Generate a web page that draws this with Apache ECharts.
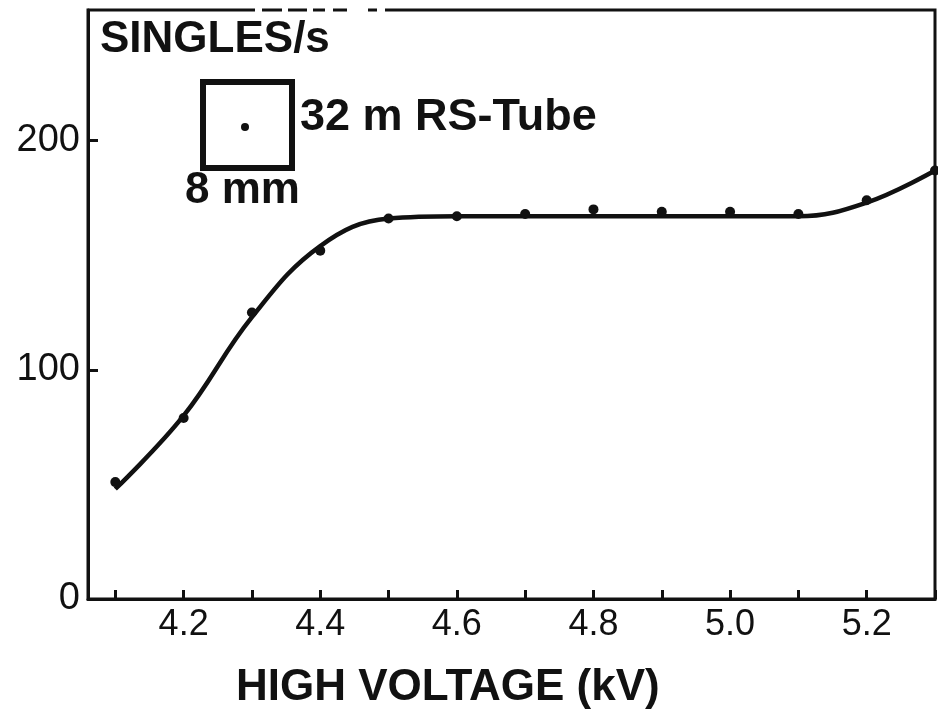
<!DOCTYPE html>
<html>
<head>
<meta charset="utf-8">
<script src="https://cdn.jsdelivr.net/npm/echarts@6/dist/echarts.min.js"></script>
<style>
  html, body { margin: 0; padding: 0; background: #fff; }
  #chart { width: 938px; height: 716px; }
</style>
</head>
<body>
<div id="chart"></div>
<script>
// high voltage (kV) at each measurement
var voltage = [4.1, 4.2, 4.3, 4.4, 4.5, 4.6, 4.7, 4.8, 4.9, 5.0, 5.1, 5.2, 5.3]
// measured singles rate (dots)
var singles = [51, 79, 125, 152, 166, 167, 168, 170, 169, 169, 168, 174, 187]
// hand drawn fit curve, read at the same voltages
var fitCurve = [48, 80, 123, 154, 166, 167, 167, 167, 167, 167, 167, 173, 187]
// axis ticks / labels
var xTicks = [4.1, 4.2, 4.3, 4.4, 4.5, 4.6, 4.7, 4.8, 4.9, 5.0, 5.1, 5.2, 5.3]
var xLabels = [4.2, 4.4, 4.6, 4.8, 5.0, 5.2]

var ink = '#111'
var font = '"Liberation Sans", Arial, Helvetica, sans-serif'

// the scanned frame has a few breaks in its top edge
var frameGaps = [[255, 7], [282, 6], [307, 6], [325, 8], [347, 21], [377, 8]]

var chart = echarts.init(document.getElementById('chart'))

var graphics = [
  {
    type: 'text',
    left: 100,
    top: 18,
    style: { text: 'SINGLES/s', fill: ink, font: 'bold 44px ' + font }
  },
  {
    type: 'rect',
    shape: { x: 203, y: 82, width: 89, height: 86 },
    style: { fill: 'none', stroke: ink, lineWidth: 6 }
  },
  {
    type: 'circle',
    shape: { cx: 245, cy: 127, r: 4 },
    style: { fill: ink }
  },
  {
    type: 'text',
    left: 300,
    top: 95,
    style: { text: '32 m RS-Tube', fill: ink, font: 'bold 45px ' + font }
  },
  {
    type: 'text',
    left: 185,
    top: 169,
    style: { text: '8 mm', fill: ink, font: 'bold 44px ' + font }
  },
  {
    type: 'text',
    left: 236,
    top: 666,
    style: { text: 'HIGH VOLTAGE (kV)', fill: ink, font: 'bold 44px ' + font }
  }
]
frameGaps.forEach(function(g) {
  graphics.push({
    type: 'rect',
    z: 100,
    shape: { x: g[0], y: 6, width: g[1], height: 8 },
    style: { fill: '#fff' }
  })
})

chart.setOption({
  backgroundColor: '#fff',
  animation: false,
  grid: {
    left: 88,
    right: 3,
    top: 10,
    bottom: 117,
    show: true,
    borderColor: ink,
    borderWidth: 3
  },
  xAxis: {
    type: 'value',
    min: 4.06,
    max: 5.3,
    axisLine: { lineStyle: { color: ink, width: 3 } },
    axisTick: {
      inside: true,
      length: 9,
      customValues: xTicks,
      lineStyle: { color: ink, width: 3 }
    },
    axisLabel: {
      customValues: xLabels,
      margin: 8,
      color: ink,
      fontFamily: font,
      fontSize: 36,
      formatter: function(v) { return v.toFixed(1) }
    },
    splitLine: { show: false }
  },
  yAxis: {
    type: 'value',
    min: 0,
    max: 257,
    interval: 100,
    axisLine: { lineStyle: { color: ink, width: 3 } },
    axisTick: {
      inside: true,
      length: 10,
      lineStyle: { color: ink, width: 3 }
    },
    axisLabel: {
      showMaxLabel: false,
      margin: 8,
      color: ink,
      fontFamily: font,
      fontSize: 38
    },
    splitLine: { show: false }
  },
  graphic: graphics,
  series: [
    {
      name: 'fit',
      type: 'line',
      smooth: 0.4,
      showSymbol: false,
      lineStyle: { color: ink, width: 4.5 },
      data: voltage.map(function(v, i) { return [v, fitCurve[i]] }),
      z: 2
    },
    {
      name: 'measured',
      type: 'scatter',
      symbol: 'circle',
      symbolSize: 10,
      itemStyle: { color: ink, opacity: 1 },
      data: voltage.map(function(v, i) { return [v, singles[i]] }),
      z: 3
    }
  ]
})
</script>
</body>
</html>
